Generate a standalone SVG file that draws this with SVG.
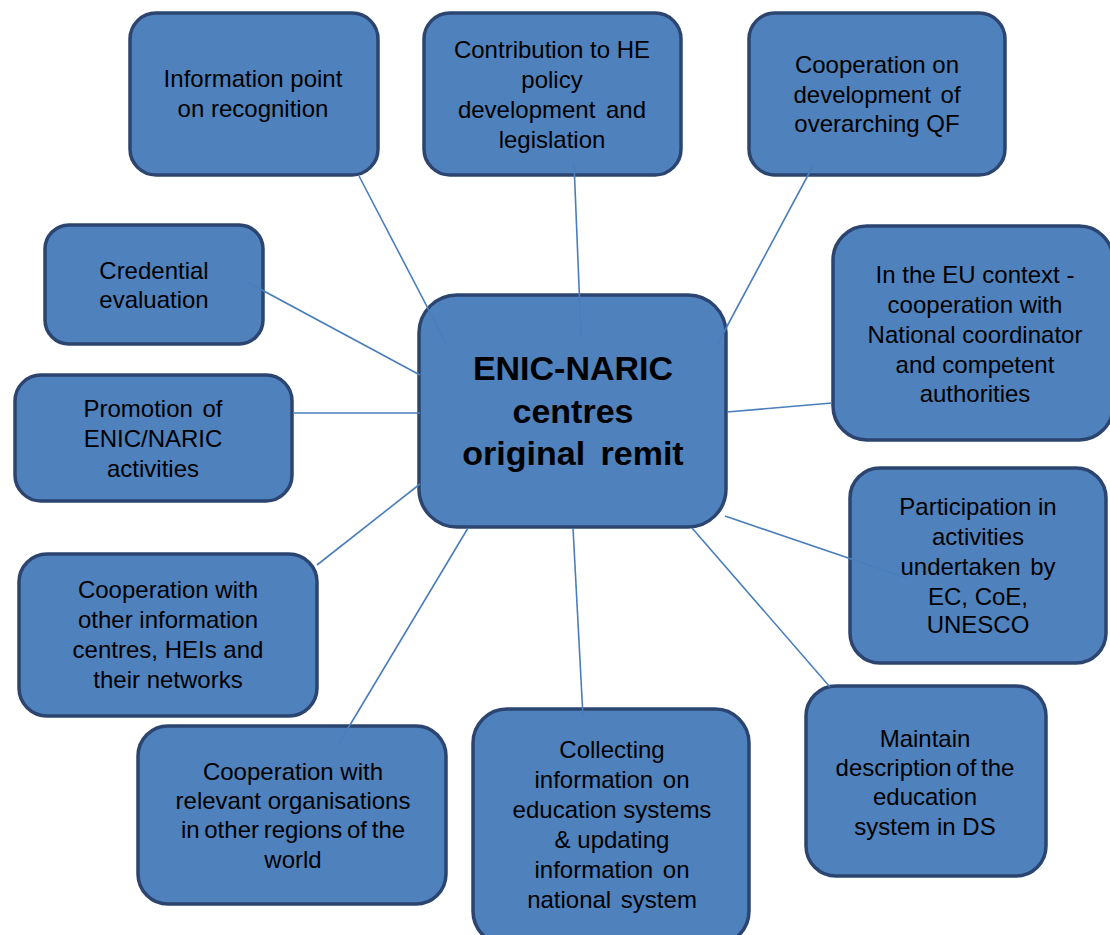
<svg xmlns="http://www.w3.org/2000/svg" width="1110" height="935" viewBox="0 0 1110 935">
<style>
.box{fill:#4F81BD;stroke:#2B4570;stroke-width:3.5}
.t{font-family:"Liberation Sans",Arial,sans-serif;font-size:24px;fill:#000;text-anchor:middle}
.c{font-family:"Liberation Sans",Arial,sans-serif;font-size:34px;font-weight:bold;fill:#000;text-anchor:middle}
.ln{stroke:#4A7EBB;stroke-width:1.6;fill:none}
</style>
<rect width="1110" height="935" fill="#fff"/>
<g id="n-info"><rect class="box" x="130" y="13" width="248" height="162" rx="26"/>
<text class="t" x="253" y="87">Information point</text><text class="t" x="253" y="117">on recognition</text></g>
<g id="n-contrib"><rect class="box" x="424" y="13" width="257" height="162" rx="26"/>
<text class="t" x="552" y="58">Contribution to HE</text><text class="t" x="552" y="88">policy</text><text class="t" x="552" y="118" word-spacing="4">development and</text><text class="t" x="552" y="148">legislation</text></g>
<g id="n-qf"><rect class="box" x="749" y="13" width="256" height="162" rx="26"/>
<text class="t" x="877" y="73">Cooperation on</text><text class="t" x="877" y="103" word-spacing="3">development of</text><text class="t" x="877" y="132">overarching QF</text></g>
<g id="n-eu"><rect class="box" x="833" y="226" width="280" height="214" rx="34"/>
<text class="t" x="975" y="283">In the EU context -</text><text class="t" x="975" y="313">cooperation with</text><text class="t" x="975" y="343">National coordinator</text><text class="t" x="975" y="373">and competent</text><text class="t" x="975" y="402">authorities</text></g>
<g id="n-part"><rect class="box" x="850" y="468" width="256" height="195" rx="30"/>
<text class="t" x="978" y="515">Participation in</text><text class="t" x="978" y="545">activities</text><text class="t" x="978" y="575" word-spacing="3">undertaken by</text><text class="t" x="978" y="605">EC, CoE,</text><text class="t" x="978" y="633">UNESCO</text></g>
<g id="n-maintain"><rect class="box" x="806" y="686" width="240" height="190" rx="30"/>
<text class="t" x="925" y="747">Maintain</text><text class="t" x="925" y="776" word-spacing="-2">description of the</text><text class="t" x="925" y="805">education</text><text class="t" x="925" y="835">system in DS</text></g>
<g id="n-collect"><rect class="box" x="473" y="709" width="276" height="236" rx="34"/>
<text class="t" x="612" y="758">Collecting</text><text class="t" x="612" y="788" word-spacing="3">information on</text><text class="t" x="612" y="818">education systems</text><text class="t" x="612" y="848">&amp; updating</text><text class="t" x="612" y="878" word-spacing="3">information on</text><text class="t" x="612" y="908" word-spacing="3">national system</text></g>
<g id="n-relevant"><rect class="box" x="138" y="726" width="308" height="178" rx="30"/>
<text class="t" x="293" y="780">Cooperation with</text><text class="t" x="293" y="809">relevant organisations</text><text class="t" x="293" y="838" word-spacing="-2">in other regions of the</text><text class="t" x="293" y="868">world</text></g>
<g id="n-other"><rect class="box" x="19" y="554" width="298" height="162" rx="28"/>
<text class="t" x="168" y="598">Cooperation with</text><text class="t" x="168" y="628">other information</text><text class="t" x="168" y="658">centres, HEIs and</text><text class="t" x="168" y="688">their networks</text></g>
<g id="n-promo"><rect class="box" x="15" y="375" width="277" height="126" rx="26"/>
<text class="t" x="153" y="417" word-spacing="3">Promotion of</text><text class="t" x="153" y="447">ENIC/NARIC</text><text class="t" x="153" y="477">activities</text></g>
<g id="n-cred"><rect class="box" x="45" y="225" width="218" height="119" rx="24"/>
<text class="t" x="154" y="279">Credential</text><text class="t" x="154" y="308">evaluation</text></g>
<g id="n-center"><rect class="box" x="419" y="295" width="307" height="232" rx="38"/>
<text class="c" x="573" y="380">ENIC-NARIC</text><text class="c" x="573" y="423">centres</text><text class="c" x="573" y="465" word-spacing="6">original remit</text></g>
<g id="connectors">
<line class="ln" x1="359" y1="176" x2="447" y2="345"/>
<line class="ln" x1="574" y1="163" x2="581" y2="335"/>
<line class="ln" x1="814" y1="164" x2="717" y2="345"/>
<line class="ln" x1="727" y1="412" x2="832" y2="403"/>
<line class="ln" x1="725" y1="516" x2="907" y2="578"/>
<line class="ln" x1="692" y1="528" x2="830" y2="687"/>
<line class="ln" x1="573" y1="528" x2="583" y2="717"/>
<line class="ln" x1="468" y1="528" x2="338" y2="745"/>
<line class="ln" x1="420" y1="484" x2="317" y2="565"/>
<line class="ln" x1="293" y1="413" x2="420" y2="413"/>
<line class="ln" x1="247" y1="282" x2="420" y2="375"/>
</g>
</svg>
